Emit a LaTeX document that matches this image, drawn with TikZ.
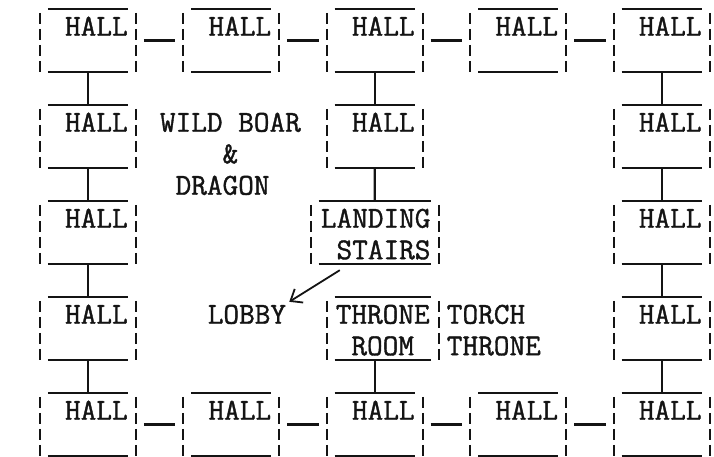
\documentclass[tikz,border=0pt]{standalone}
\usepackage{xcolor}
\usepackage{fontspec}
\newfontfamily\csmono{lmmono12-regular.otf}[FakeBold=1.2]
\definecolor{csink}{HTML}{141414}
\definecolor{csbg}{HTML}{FFFFFF}
\usetikzlibrary{arrows.meta,positioning,calc}
\newcommand{\cspitch}{15.94pt}
\newcommand{\csstrut}{\rule[-4.8pt]{0pt}{31.5pt}}
\tikzset{
  csroom/.style ={rectangle, inner sep=0pt, minimum height=63pt, align=right,
                  font=\csmono\fontsize{30.4}{31.5}\selectfont, text=csink},
  cshall/.style ={csroom, minimum width=111.58pt, text width=79.7pt},
  cstext/.style ={inner sep=0pt, align=left,
                  font=\csmono\fontsize{30.4}{31.5}\selectfont, text=csink},
  csrule/.style ={line width=2.1pt, draw=csink},
  csbar/.style  ={line width=2.1pt, draw=csink, dash pattern=on 11pt off 5pt},
  cslink/.style ={line width=2.1pt, draw=csink},
  csarrow/.style={-{Straight Barb[length=10pt,width=16pt]}, line width=1.8pt, draw=csink},
}

\begin{document}
\begin{tikzpicture}[x=1pt,y=-1pt]
  \path[use as bounding box, fill=csbg] (0,0) rectangle (714,457);
  \foreach \c in {1,...,5}{
    \node[cshall] (h1\c) at ({87.82+143.46*(\c-1)},40.5) {\csstrut HALL\\\csstrut};
    \node[cshall] (h5\c) at ({87.82+143.46*(\c-1)},424.5) {\csstrut HALL\\\csstrut};}
  \foreach \r/\c in {2/1,2/3,2/5,3/1,3/5,4/1,4/5}{
    \node[cshall] (h\r\c) at ({87.82+143.46*(\c-1)},{40.5+96*(\r-1)}) {\csstrut HALL\\\csstrut};}
  \node[csroom, minimum width=143.46pt, text width=111.58pt]
       (landing) at (374.7,232.5) {\csstrut LANDING\\\csstrut STAIRS};
  \node[csroom, align=center, minimum width=127.52pt, text width=95.64pt]
       (throne) at (382.71,328.5) {\csstrut THRONE\\\csstrut ROOM};
  \foreach \b in {h11,h12,h13,h14,h15,h21,h23,h25,h31,h35,h41,h45,
                  h51,h52,h53,h54,h55,landing,throne}{
    \draw[csrule] ([xshift=\cspitch]\b.north west) -- ([xshift=-\cspitch]\b.north east)
                  ([xshift=\cspitch]\b.south west) -- ([xshift=-\cspitch]\b.south east);
    \draw[csbar] ([xshift=0.5*\cspitch,yshift=-4pt]\b.north west) -- ([xshift=0.5*\cspitch]\b.south west);
    \draw[csbar] ([xshift=-0.5*\cspitch,yshift=-4pt]\b.north east) -- ([xshift=-0.5*\cspitch]\b.south east);
  }
  \foreach \r in {1,5}{
    \foreach \a/\b in {1/2,2/3,3/4,4/5}{
      \draw[cslink] (h\r\a) -- (h\r\b);}}
  \foreach \c in {1,5}{
    \foreach \a/\b in {1/2,2/3,3/4,4/5}{
      \draw[cslink] (h\a\c) -- (h\b\c);}}
  \draw[cslink] (h13) -- (h23);
  \draw[cslink] (h23) -- (landing);
  \draw[cslink] (throne.south -| h53) -- (h53);
  \node[cstext, anchor=north west] (boar) at ([xshift=\cspitch]h21.north east)
       {\csstrut WILD BOAR\\\csstrut\phantom{WILD}\&\\\csstrut\phantom{W}DRAGON};
  \node[cstext, anchor=north west] (lobby) at ([xshift=4*\cspitch]h41.north east)
       {\csstrut LOBBY};
  \node[cstext, anchor=north west] (torch) at (throne.north east)
       {\csstrut TORCH\\\csstrut THRONE};
  \draw[csarrow] ([xshift=37pt,yshift=-6pt]landing.south west) -- ([xshift=3pt,yshift=-5pt]lobby.north east);
\end{tikzpicture}
\end{document}
